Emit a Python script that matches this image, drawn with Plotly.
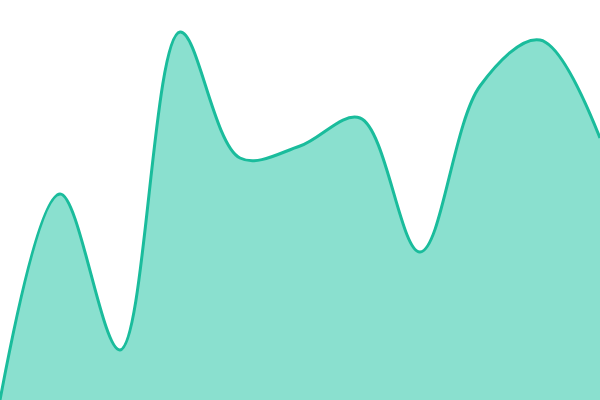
import plotly.graph_objects as go

x = list(range(11))
values = [0, 51.5, 12.5, 92, 60.5, 63.5, 70.5, 37, 78.5, 90, 65.5]

fig = go.Figure()
fig.add_trace(go.Scatter(
    x=x, y=values,
    mode="lines",
    line=dict(shape="spline", smoothing=1, color="#1abc9c", width=3),
    fill="tozeroy",
    fillcolor="#8ae0cf",
    hoverinfo="skip",
))

fig.update_layout(
    width=600, height=400,
    margin=dict(l=0, r=0, t=0, b=0),
    paper_bgcolor="white",
    plot_bgcolor="white",
    showlegend=False,
    xaxis=dict(visible=False, range=[0, 10]),
    yaxis=dict(visible=False, range=[0, 100]),
)

# page has a default 8px body margin, drop it so the chart fills the window
fig.write_html("out.html", config={"displayModeBar": False},
               post_script="document.body.style.margin='0';")
